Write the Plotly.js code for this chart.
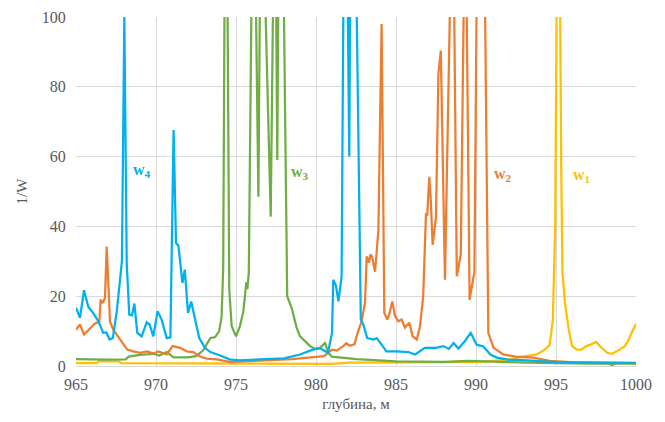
<!DOCTYPE html>
<html>
<head>
<meta charset="utf-8">
<script src="https://cdn.plot.ly/plotly-3.0.1.min.js"></script>
<style>html,body{margin:0;padding:0;background:#fff;}#chart{width:665px;height:422px;}</style>
</head>
<body>
<div id="chart"></div>
<script>
// w4 (blue)
const w4_x = [965.0,965.25,965.5,965.77,966.1,966.4,966.7,966.9,967.1,967.3,967.55,967.75,967.87,968.02,968.17,968.33,968.5,968.65,968.83,969.1,969.42,969.6,969.83,970.1,970.35,970.67,970.9,971.1,971.25,971.4,971.65,971.8,972.0,972.2,972.4,972.7,973.06,973.4,974.0,974.6,975.2,976.0,977.0,978.0,979.0,979.8,980.25,980.75,981.0,981.08,981.25,981.4,981.6,981.72,981.95,982.08,982.15,982.4,982.52,982.8,982.95,983.2,983.6,983.8,984.1,984.4,985.0,985.77,986.2,986.8,987.5,987.96,988.3,988.6,988.9,989.3,989.67,990.04,990.46,990.9,991.3,992.0,993.2,995.0,997.0,1000.0];
const w4_y = [16.7,13.8,21.7,17,15,12.8,9.5,9.6,7.6,8,15.7,23.8,30,100,29.5,14.7,14.5,17.9,9.5,8.5,12.5,11.9,8.5,15.7,13.3,8,8.2,67.6,35.2,34.5,23.8,27.6,15.2,18.5,14,8,5.2,4,3,1.9,1.6,1.8,2.0,2.2,3.3,4.7,5.1,3.8,9.5,24.7,23,18.5,25.7,110,120,60,120,120,110,13.3,12,8,7.6,8,6.1,4.2,4.2,4,3.3,5.2,5.2,5.7,4.9,6.6,5,7.1,9.5,6.1,5.6,3.3,2.4,1.8,1.6,1.1,1.0,0.9];

// w3 (green)
const w3_x = [965.0,966.0,967.0,968.1,968.3,969.0,969.83,970.2,970.67,971.1,972.0,972.5,972.96,973.2,973.4,973.7,973.95,974.1,974.2,974.3,974.45,974.58,974.73,975.0,975.25,975.46,975.56,975.65,975.71,975.8,975.98,976.2,976.4,976.5,976.8,977.17,977.33,977.5,977.58,977.65,977.95,978.2,978.48,978.79,979.0,979.42,979.63,979.94,980.25,980.56,980.77,980.98,981.5,982.54,985.0,988.0,989.5,990.5,992.0,994.0,995.0,997.0,998.3,998.5,998.7,1000.0];
const w3_y = [2.0,1.8,1.8,1.9,2.7,3.2,3.5,3.0,4.0,2.5,2.5,2.8,4.5,6.5,8,8.3,10,14.2,28,120,120,21.9,11.4,8.5,11.4,15.7,20.5,24,22,26.6,110,120,48.5,110,110,42.8,110,110,59,110,120,20,16.6,11,8.5,6.6,5.7,4.9,5.2,6.6,3.8,2.7,2.4,2.0,1.3,1.2,1.5,1.3,1.1,0.9,0.8,0.7,0.7,0.2,0.7,0.7];

// w2 (orange)
const w2_x = [965.0,965.25,965.5,965.875,966.19,966.46,966.54,966.67,966.81,966.92,967.125,967.33,967.75,968.2,968.58,969.0,969.42,969.83,970.15,970.67,971.04,971.5,971.92,972.33,972.75,973.17,973.8,974.6,975.5,977.0,978.5,979.5,980.5,981.0,981.3,981.7,981.9,982.1,982.4,982.6,982.85,983.06,983.17,983.31,983.4,983.5,983.69,983.9,984.1,984.27,984.46,984.6,984.77,984.94,985.15,985.35,985.56,985.83,986.04,986.3,986.5,986.7,986.875,986.95,987.08,987.17,987.29,987.5,987.65,987.8,988.06,988.4,988.6,988.8,989.05,989.25,989.4,989.6,989.9,990.05,990.4,990.55,990.77,991.1,991.7,992.5,993.6,994.6,995.9,1000.0];
const w2_y = [10.4,11.9,9,10.8,12.2,12.7,19,18,19.5,34.2,12.7,10.4,7.6,4.7,4.2,3.8,4.2,3.6,4.2,3.3,5.7,5.2,4.2,4,2.7,2.1,1.9,1.2,1.3,1.6,2.0,2.4,2.8,4.7,4.4,5.7,6.5,5.8,6.2,9.5,12.8,18,31.4,29.6,32,31.4,27,39,98,15.2,13.3,15.2,18.5,14.3,12.8,13.3,11,12.4,8.5,7.6,11.4,20,43.8,43,54.2,47.8,34.7,42.8,83.8,90.4,24.7,110,120,25.7,32,110,110,19,27,110,130,110,9.5,5.2,3.3,2.7,2.4,1.5,1.1,0.8];

// w1 (yellow)
const w1_x = [965.0,966.3,966.4,967.7,967.8,973.5,973.6,981.0,982.0,990.0,991.1,992.1,993.2,993.8,994.3,994.6,994.8,994.95,995.05,995.25,995.32,995.4,995.56,995.8,996.0,996.3,996.6,996.9,997.2,997.5,997.75,998.2,998.5,998.8,999.3,999.5,999.73,999.94,1000.0];
const w1_y = [0.8,0.8,1.3,1.3,0.8,0.8,0.6,0.6,1.0,1.1,1.5,1.9,2.9,3.3,4.7,6,13,40,110,110,60,27,18,10.4,5.8,4.7,4.7,5.7,6.2,6.9,5.7,3.8,3.5,4.2,5.7,7.1,9.5,11.4,12];

const seriesNames = ['w1','w2','w3','w4'];
const xTickVals = [965,970,975,980,985,990,995,1000];
const yTickVals = [0,20,40,60,80,100];
const xTitle = 'глубина, м';
const yTitle = '1/W';

const colors = {w1:'#ffc000', w2:'#ed7d31', w3:'#70ad47', w4:'#00b0f0'};
const serif = 'Liberation Serif';

const mk = (name, x, y) => ({x, y, name, type:'scatter', mode:'lines',
  line:{color:colors[name], width:2.25}, hoverinfo:'skip'});

const data = [mk('w1',w1_x,w1_y), mk('w3',w3_x,w3_y), mk('w2',w2_x,w2_y), mk('w4',w4_x,w4_y)];

const labelPos = {w4:[969.1,56], w3:[979.0,55.5], w2:[991.7,55], w1:[996.6,54.5]};
const annotations = seriesNames.map(n => ({
  x: labelPos[n][0], y: labelPos[n][1], xref:'x', yref:'y',
  text: '<b>w<sub>' + n.slice(1) + '</sub></b>', showarrow:false,
  font:{family:serif, size:16, color:colors[n]}
}));

const layout = {
  width:665, height:422,
  margin:{l:76, r:29, t:17, b:56},
  paper_bgcolor:'#ffffff', plot_bgcolor:'#ffffff',
  showlegend:false,
  font:{family:serif, color:'#595959'},
  xaxis:{range:[965,1000], tickvals:xTickVals, ticktext:xTickVals.map(String),
    showgrid:true, gridcolor:'#d9d9d9', gridwidth:1, zeroline:false,
    showline:true, linecolor:'#d9d9d9', linewidth:1,
    ticks:'outside', ticklen:4, tickcolor:'rgba(0,0,0,0)',
    tickfont:{family:serif, size:16, color:'#595959'},
    title:{text:xTitle, font:{family:serif, size:15, color:'#595959'}, standoff:6}},
  yaxis:{range:[0,100], tickvals:yTickVals, ticktext:yTickVals.map(String),
    showgrid:true, gridcolor:'#d9d9d9', gridwidth:1, zeroline:false,
    showline:false, ticks:'outside', ticklen:6, tickcolor:'rgba(0,0,0,0)',
    tickfont:{family:serif, size:16, color:'#595959'},
    title:{text:yTitle, font:{family:serif, size:15, color:'#595959'}, standoff:10}},
  annotations
};

Plotly.newPlot('chart', data, layout, {staticPlot:true, displayModeBar:false});
</script>
</body>
</html>
